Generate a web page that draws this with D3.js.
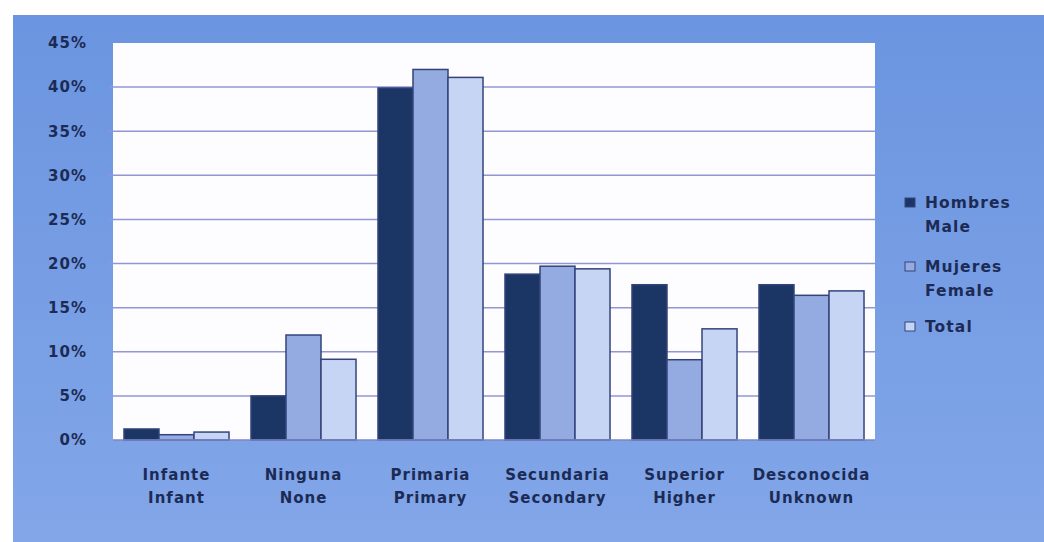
<!DOCTYPE html>
<html>
<head>
<meta charset="utf-8">
<script src="https://cdn.jsdelivr.net/npm/d3@7"></script>
<style>
  body { margin: 0; background: #fff; }
  text { font-family: "DejaVu Sans", Verdana, sans-serif; font-weight: bold; fill: #1c2b55; }
</style>
</head>
<body>
<div id="chart"></div>
<script>
// categories, two-line labels
const categories = ["Infante", "Ninguna", "Primaria", "Secundaria", "Superior", "Desconocida"];
const categoriesEn = ["Infant", "None", "Primary", "Secondary", "Higher", "Unknown"];

const seriesNames = ["Hombres", "Mujeres", "Total"];
const seriesNamesEn = ["Male", "Female", ""];

// percentages
const hombres = [1.25, 5.0, 39.9, 18.8, 17.6, 17.6];
const mujeres = [0.6, 11.9, 42.0, 19.7, 9.1, 16.4];
const total = [0.9, 9.15, 41.1, 19.4, 12.6, 16.9];

const yTicks = [0, 5, 10, 15, 20, 25, 30, 35, 40, 45];

const colors = ["#1b3564", "#93abe0", "#c7d5f4"];

const W = 1044, H = 542;
const plot = { left: 113, top: 43, right: 875, bottom: 440 };

const svg = d3.select("#chart").append("svg")
    .attr("width", W)
    .attr("height", H);

const grad = svg.append("defs").append("linearGradient")
    .attr("id", "bg").attr("x1", 0).attr("y1", 0).attr("x2", 0).attr("y2", 1);
grad.append("stop").attr("offset", "0%").attr("stop-color", "#6b95e0");
grad.append("stop").attr("offset", "100%").attr("stop-color", "#82a6e8");

svg.append("rect")
    .attr("x", 13).attr("y", 15)
    .attr("width", W - 13).attr("height", H - 15)
    .attr("fill", "url(#bg)");

svg.append("rect")
    .attr("x", plot.left).attr("y", plot.top)
    .attr("width", plot.right - plot.left).attr("height", plot.bottom - plot.top)
    .attr("fill", "#fdfdff");

const x0 = d3.scaleBand()
    .domain(categories)
    .range([plot.left, plot.right])
    .paddingInner(0.173)
    .paddingOuter(0.0865);

const x1 = d3.scaleBand()
    .domain(seriesNames)
    .range([0, x0.bandwidth()]);

const y = d3.scaleLinear()
    .domain([0, 45])
    .range([plot.bottom, plot.top]);

// gridlines
svg.append("g")
    .selectAll("line")
    .data(yTicks.filter(d => d > 0 && d < 45))
    .join("line")
    .attr("x1", plot.left - 4).attr("x2", plot.right)
    .attr("y1", d => y(d)).attr("y2", d => y(d))
    .attr("stroke", "#9396d4")
    .attr("stroke-width", 1.5);

// y axis labels
const yAxis = svg.append("g")
    .attr("transform", `translate(${plot.left - 23},0)`)
    .call(d3.axisLeft(y).tickValues(yTicks).tickFormat(d => d + "%").tickSize(0));
yAxis.select(".domain").remove();
yAxis.selectAll("text")
    .attr("font-size", 15)
    .attr("letter-spacing", 1)
    .attr("font-family", null)
    .attr("fill", "#1c2b55");

const data = categories.map((c, i) => ({
    cat: c,
    values: [hombres[i], mujeres[i], total[i]]
}));

const groups = svg.append("g")
    .selectAll("g")
    .data(data)
    .join("g")
    .attr("transform", d => `translate(${x0(d.cat)},0)`);

groups.selectAll("rect")
    .data(d => d.values.map((v, j) => ({ key: seriesNames[j], v, j })))
    .join("rect")
    .attr("x", d => x1(d.key))
    .attr("y", d => y(d.v))
    .attr("width", x1.bandwidth())
    .attr("height", d => y(0) - y(d.v))
    .attr("fill", d => colors[d.j])
    .attr("stroke", "#34447a")
    .attr("stroke-width", 1.5);

// bottom axis line
svg.append("line")
    .attr("x1", plot.left).attr("x2", plot.right)
    .attr("y1", plot.bottom).attr("y2", plot.bottom)
    .attr("stroke", "#7d86c4").attr("stroke-width", 1.5);

// category labels
const labels = svg.append("g")
    .selectAll("text")
    .data(categories)
    .join("text")
    .attr("text-anchor", "middle")
    .attr("font-size", 15)
    .attr("letter-spacing", 1)
    .attr("x", d => x0(d) + x0.bandwidth() / 2);
labels.append("tspan").attr("y", 480).text(d => d);
labels.append("tspan")
    .attr("x", d => x0(d) + x0.bandwidth() / 2)
    .attr("y", 503)
    .text((d, i) => categoriesEn[i]);

// legend
const legendY = [198, 262, 322];
const legend = svg.append("g")
    .selectAll("g")
    .data(seriesNames)
    .join("g")
    .attr("transform", (d, i) => `translate(905,${legendY[i]})`);

legend.append("rect")
    .attr("width", 10).attr("height", 9)
    .attr("fill", (d, i) => colors[i])
    .attr("stroke", "#34447a").attr("stroke-width", 1);

const lt = legend.append("text")
    .attr("font-size", 15.5)
    .attr("letter-spacing", 1.1);
lt.append("tspan").attr("x", 20).attr("y", 10).text(d => d);
lt.append("tspan").attr("x", 20).attr("y", 34).text((d, i) => seriesNamesEn[i]);
</script>
</body>
</html>
